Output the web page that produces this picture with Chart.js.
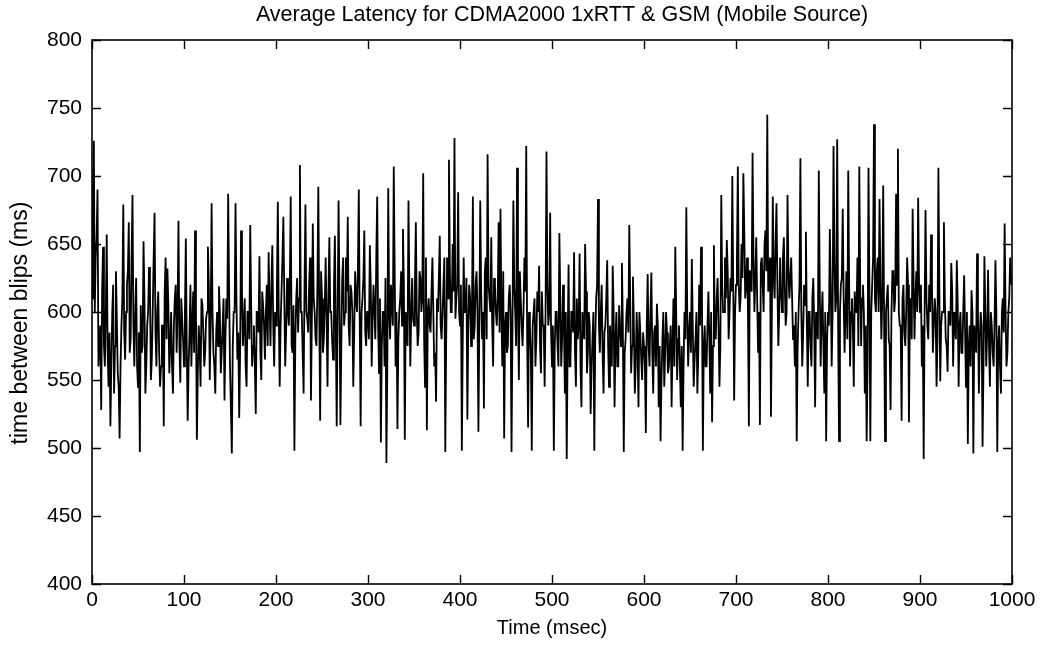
<!DOCTYPE html>
<html>
<head>
<meta charset="utf-8">
<script src="https://cdn.jsdelivr.net/npm/chart.js@4.4.1/dist/chart.umd.min.js"></script>
<style>
  html, body { margin: 0; padding: 0; background: #fff; }
  #wrap { width: 1041px; height: 648px; }
</style>
</head>
<body>
<div id="wrap"><canvas id="c" width="1041" height="648"></canvas></div>
<script>
// ---- data (one sample per ms) ----
const chartTitle = 'Average Latency for CDMA2000 1xRTT & GSM (Mobile Source)';
const xAxisLabel = 'Time (msec)';
const yAxisLabel = 'time between blips (ms)';
const xTicks = [0, 100, 200, 300, 400, 500, 600, 700, 800, 900, 1000];
const yTicks = [400, 450, 500, 550, 600, 650, 700, 750, 800];

// samples at even milliseconds (0, 2, 4, ...), 100 ms per array
const latencyEven000 = [610,726,640,690,575,528,648,560,657,545,516,600,540,630,555,507,590,679,565,620,666,580,686,560,625,545,497,570,652,540,590,633,550,600,673,560,615,545,590,516,640,632,555,600,540,610,570,667,548,595];
const latencyEven100 = [560,654,520,585,560,615,660,506,590,545,605,560,595,648,550,680,570,540,600,619,555,590,535,610,687,560,496,600,680,565,522,660,575,610,545,600,664,560,590,525,600,641,550,605,565,620,644,575,649,560];
const latencyEven200 = [590,681,545,615,670,560,625,590,685,570,498,610,585,708,600,540,679,595,620,535,665,600,575,692,520,610,580,640,545,655,600,565,656,516,682,517,625,590,640,670,575,615,545,630,600,690,516,610,660,575];
const latencyEven300 = [600,649,560,620,580,685,555,504,600,560,489,691,580,620,707,560,514,600,630,661,506,590,682,560,625,590,666,575,630,600,702,545,513,610,585,640,560,534,600,656,580,620,497,640,712,600,650,728,610,688];
const latencyEven400 = [590,498,640,600,521,620,575,685,590,630,512,682,580,529,640,716,610,655,560,620,590,666,676,560,507,600,575,620,497,682,600,706,550,610,575,640,722,515,590,498,600,560,615,634,555,590,545,718,590,673];
const latencyEven500 = [560,498,600,575,658,560,620,540,492,635,560,600,644,545,580,643,530,590,650,555,600,525,580,498,610,683,570,620,540,590,638,545,575,634,530,600,560,590,636,497,580,610,664,555,626,540,600,530,585,550];
const latencyEven600 = [575,511,628,560,629,540,590,606,530,505,580,545,600,555,575,530,610,648,550,590,530,498,600,677,560,600,639,545,580,540,620,648,498,590,560,615,540,519,649,580,625,545,686,600,640,653,580,625,700,535];
const latencyEven700 = [620,707,600,650,702,610,640,516,630,717,600,655,570,517,640,600,660,745,620,523,685,610,680,575,640,600,655,590,686,610,640,580,560,505,600,713,560,620,659,545,600,560,625,530,590,704,560,615,540,505];
const latencyEven800 = [600,661,560,722,600,727,505,620,676,570,630,704,560,610,545,600,640,707,575,620,540,505,706,505,620,738,600,640,683,580,693,505,610,580,528,630,600,687,720,590,520,620,575,640,519,610,676,580,630,684];
const latencyEven900 = [600,560,492,675,590,620,657,570,610,545,706,549,600,666,580,556,600,636,560,590,638,545,600,570,627,545,503,590,616,496,580,643,540,600,501,641,560,631,545,590,560,638,497,590,540,610,665,560,599,640];

// samples at odd milliseconds (1, 3, 5, ...), 100 ms per array
const latencyOdd000 = [680,600,655,560,590,615,575,600,570,585,560,620,575,595,545,560,610,585,600,630,570,640,590,600,560,585,605,575,610,560,600,620,565,640,585,600,570,560,590,615,580,605,575,560,590,620,600,575,610,580];
const latencyOdd100 = [600,575,560,620,590,570,600,555,575,610,585,570,600,620,590,600,560,585,575,600,570,610,580,595,620,560,575,600,610,585,570,615,590,560,600,580,605,575,560,600,585,570,615,590,600,575,605,620,590,600];
const latencyOdd200 = [620,600,590,640,610,585,600,620,575,605,580,625,610,600,570,620,600,585,640,595,610,580,620,600,630,570,605,595,615,600,580,620,590,600,610,575,640,600,615,590,620,600,585,610,630,595,600,625,585,600];
const latencyOdd300 = [580,620,595,600,640,590,610,575,600,625,560,600,620,590,630,600,580,610,590,620,600,575,615,600,595,620,600,585,625,610,580,640,600,590,615,600,570,610,625,590,600,640,580,610,630,600,615,595,620,600];
const latencyOdd400 = [620,580,600,625,590,610,600,580,620,600,590,615,600,630,580,620,600,590,625,600,610,585,600,630,590,570,610,600,585,620,575,600,630,590,600,615,580,600,570,590,610,580,600,575,615,590,600,620,600,585];
const latencyOdd500 = [590,575,600,560,610,580,590,600,575,560,600,585,570,610,590,560,600,580,615,570,590,560,600,580,620,590,600,570,585,610,575,590,560,600,580,560,605,575,590,570,600,585,610,575,590,560,580,600,565,585];
const latencyOdd600 = [560,590,575,600,570,585,560,590,575,550,600,570,585,560,590,575,560,600,580,560,575,560,580,600,585,570,590,565,600,570,590,610,575,560,590,580,600,575,585,610,590,575,620,600,610,630,600,615,620,600];
const latencyOdd700 = [640,620,610,625,660,620,600,630,615,640,625,610,600,635,620,650,630,615,640,600,625,650,620,600,615,640,620,600,630,625,610,590,600,575,620,600,585,605,590,600,575,610,590,600,580,620,595,575,600,580];
const latencyOdd800 = [590,620,600,640,610,590,600,625,610,600,580,620,600,590,615,600,575,620,610,600,590,560,620,600,640,610,630,600,620,610,590,600,620,575,600,630,610,620,600,590,610,585,600,620,600,580,625,610,600,620];
const latencyOdd900 = [620,590,600,610,580,600,620,590,600,580,620,590,600,610,575,600,590,615,600,580,605,590,570,600,585,600,575,560,600,590,570,600,580,590,560,600,585,575,600,570,590,600,575,560,600,585,600,570,610,620];

const evenValues = [].concat(latencyEven000, latencyEven100, latencyEven200, latencyEven300, latencyEven400,
                             latencyEven500, latencyEven600, latencyEven700, latencyEven800, latencyEven900);
const oddValues = [].concat(latencyOdd000, latencyOdd100, latencyOdd200, latencyOdd300, latencyOdd400,
                            latencyOdd500, latencyOdd600, latencyOdd700, latencyOdd800, latencyOdd900);

const points = [];
evenValues.forEach((v, i) => {
  points.push({ x: 2 * i, y: v });
  if (i < oddValues.length) points.push({ x: 2 * i + 1, y: oddValues[i] });
});

const FONT = "'Liberation Sans', Arial, Helvetica, sans-serif";
Chart.defaults.color = '#000';
Chart.defaults.font.family = FONT;

// title, y-axis label, frame and inward tick marks (MATLAB style)
const framePlugin = {
  id: 'frame',
  afterDraw(chart) {
    const { ctx, chartArea: a, scales: { x, y } } = chart;
    const len = 9;
    ctx.save();
    ctx.strokeStyle = '#000';
    ctx.lineWidth = 1.6;
    ctx.strokeRect(a.left, a.top, a.right - a.left, a.bottom - a.top);
    ctx.lineWidth = 1.4;
    ctx.beginPath();
    xTicks.forEach(t => {
      const px = Math.round(x.getPixelForValue(t)) + 0.5;
      ctx.moveTo(px, a.bottom); ctx.lineTo(px, a.bottom - len);
      ctx.moveTo(px, a.top); ctx.lineTo(px, a.top + len);
    });
    yTicks.forEach(t => {
      const py = Math.round(y.getPixelForValue(t)) + 0.5;
      ctx.moveTo(a.left, py); ctx.lineTo(a.left + len, py);
      ctx.moveTo(a.right, py); ctx.lineTo(a.right - len, py);
    });
    ctx.stroke();

    ctx.fillStyle = '#000';
    ctx.textAlign = 'center';
    ctx.textBaseline = 'middle';
    ctx.font = "21.5px " + FONT;
    ctx.fillText(chartTitle, (a.left + a.right) / 2 + 10, 15);

    ctx.translate(21, (a.top + a.bottom) / 2 + 11);
    ctx.rotate(-Math.PI / 2);
    ctx.font = "23px " + FONT;
    ctx.fillText(yAxisLabel, 0, 0);
    ctx.restore();
  }
};

new Chart(document.getElementById('c'), {
  type: 'line',
  data: {
    datasets: [{
      data: points,
      borderColor: '#000',
      borderWidth: 1.8,
      pointRadius: 0,
      tension: 0,
      fill: false
    }]
  },
  options: {
    responsive: false,
    animation: false,
    events: [],
    layout: { padding: { left: 0, right: 29, top: 40, bottom: 0 } },
    plugins: {
      legend: { display: false },
      tooltip: { enabled: false },
      title: { display: false }
    },
    scales: {
      x: {
        type: 'linear',
        min: 0, max: 1000,
        afterBuildTicks: s => { s.ticks = xTicks.map(v => ({ value: v })); },
        grid: { display: false, drawTicks: false },
        border: { display: false },
        ticks: { font: { family: FONT, size: 21 }, padding: 4, maxRotation: 0, autoSkip: false, color: '#000',
                 callback: v => String(v) },
        title: { display: true, text: xAxisLabel, font: { family: FONT, size: 20 }, padding: { top: 0, bottom: 8 }, color: '#000' },
        afterFit: s => { s.height = 64; }
      },
      y: {
        type: 'linear',
        min: 400, max: 800,
        afterBuildTicks: s => { s.ticks = yTicks.map(v => ({ value: v })); },
        grid: { display: false, drawTicks: false },
        border: { display: false },
        ticks: { font: { family: FONT, size: 21 }, padding: 10, color: '#000', callback: v => String(v) },
        title: { display: false },
        afterFit: s => { s.width = 92; }
      }
    }
  },
  plugins: [framePlugin]
});
</script>
</body>
</html>
